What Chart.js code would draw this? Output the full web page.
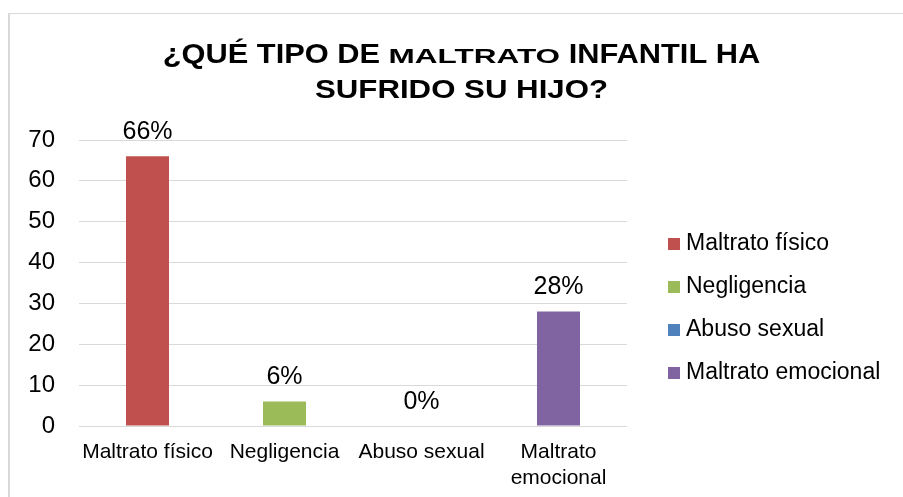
<!DOCTYPE html>
<html>
<head>
<meta charset="utf-8">
<script src="https://cdn.jsdelivr.net/npm/chart.js@4/dist/chart.umd.min.js"></script>
<style>
  html, body { margin: 0; padding: 0; background: #fff; }
  #wrap { position: relative; width: 903px; height: 497px; overflow: hidden; }
  #frame { position: absolute; left: 8px; top: 13px; width: 900px; height: 490px;
           border-left: 2px solid #d9d9d9; border-top: 1px solid #d9d9d9; }
  canvas { position: absolute; left: 0; top: 0; }
</style>
</head>
<body>
<div id="wrap">
  <div id="frame"></div>
  <canvas id="chart" width="903" height="497"></canvas>
</div>
<script>
const categories = ['Maltrato físico', 'Negligencia', 'Abuso sexual', ['Maltrato', 'emocional']]
const seriesNames = ['Maltrato físico', 'Negligencia', 'Abuso sexual', 'Maltrato emocional']
const values = [66, 6, 0, 28]
const colors = ['#C0504D', '#9BBB59', '#4F81BD', '#8064A2']
const yTicks = [0, 10, 20, 30, 40, 50, 60, 70]

// title has mixed sizes, so it is drawn by hand
const titleLines = [
	[{ text: '¿QUÉ TIPO DE ', size: 28, sx: 1.1 }, { text: 'MALTRATO', size: 21, sx: 1.5 }, { text: ' INFANTIL HA', size: 28, sx: 1.1 }],
	[{ text: 'SUFRIDO SU HIJO?', size: 26, sx: 1.2 }],
]
const titleBaselines = [63, 98]

const FONT = "'Liberation Sans', Arial, sans-serif"

const titlePlugin = {
	id: 'mixedTitle',
	afterDraw(chart) {
		const ctx = chart.ctx
		ctx.save()
		ctx.fillStyle = '#000'
		ctx.textBaseline = 'alphabetic'
		ctx.textAlign = 'left'
		titleLines.forEach((parts, li) => {
			let total = 0
			parts.forEach(p => {
				ctx.font = 'bold ' + p.size + 'px ' + FONT
				p.w = ctx.measureText(p.text).width * p.sx
				total += p.w
			})
			let x = chart.width / 2 + 10 - total / 2
			parts.forEach(p => {
				ctx.font = 'bold ' + p.size + 'px ' + FONT
				ctx.save()
				ctx.translate(x, titleBaselines[li])
				ctx.scale(p.sx, 1)
				ctx.fillText(p.text, 0, 0)
				ctx.restore()
				x += p.w
			})
		})
		ctx.restore()
	}
}

// legend on the right, Excel style: small square, tight gap
const sideLegend = {
	id: 'sideLegend',
	afterDraw(chart) {
		const ctx = chart.ctx
		const area = chart.chartArea
		const boxX = area.right + 41
		const firstY = 244
		const step = 43
		ctx.save()
		ctx.font = '23px ' + FONT
		ctx.textBaseline = 'middle'
		ctx.textAlign = 'left'
		chart.data.datasets.forEach((ds, i) => {
			const y = firstY + i * step
			ctx.fillStyle = ds.backgroundColor
			ctx.fillRect(boxX, y - 6, 12, 12)
			ctx.fillStyle = '#000'
			ctx.fillText(ds.label, boxX + 18, y)
		})
		ctx.restore()
	}
}

const valueLabels = {
	id: 'valueLabels',
	afterDatasetsDraw(chart) {
		const ctx = chart.ctx
		ctx.save()
		ctx.font = '25px ' + FONT
		ctx.fillStyle = '#000'
		ctx.textAlign = 'center'
		ctx.textBaseline = 'middle'
		chart.data.datasets.forEach((ds, di) => {
			const meta = chart.getDatasetMeta(di)
			meta.data.forEach((bar, i) => {
				if (ds.data[i] == null) return
				ctx.fillText(ds.data[i] + '%', bar.x, bar.y - 24)
			})
		})
		ctx.restore()
	}
}

// one dataset per category so the legend lists each one
const datasets = seriesNames.map((name, i) => ({
	label: name,
	data: values.map((v, j) => (j === i ? v : null)),
	backgroundColor: colors[i],
	borderWidth: 0,
}))

Chart.defaults.font.family = FONT
Chart.defaults.color = '#000'

new Chart(document.getElementById('chart'), {
	type: 'bar',
	data: {
		labels: categories,
		datasets: datasets,
	},
	options: {
		responsive: false,
		animation: false,
		layout: {
			padding: { top: 140, left: 28, right: 276, bottom: 0 },
		},
		datasets: {
			bar: {
				grouped: false,
				categoryPercentage: 1,
				barPercentage: 0.314,
			}
		},
		plugins: {
			title: { display: false },
			tooltip: { enabled: false },
			legend: { display: false },
		},
		scales: {
			x: {
				grid: { display: false, drawTicks: false },
				border: { display: false },
				ticks: { font: { size: 21 }, padding: 14, maxRotation: 0, autoSkip: false },
				afterFit: axis => {
					axis.height = 71
					axis.paddingLeft = 0
					axis.paddingRight = 0
				},
			},
			y: {
				min: 0,
				max: 70,
				afterBuildTicks: axis => { axis.ticks = yTicks.map(v => ({ value: v })) },
				grid: { color: '#d9d9d9', lineWidth: 1, drawTicks: false },
				border: { display: false },
				ticks: { font: { size: 24 }, padding: 24 },
				afterFit: axis => { axis.width = 51 },
			},
		}
	},
	plugins: [titlePlugin, valueLabels, sideLegend],
})
</script>
</body>
</html>
